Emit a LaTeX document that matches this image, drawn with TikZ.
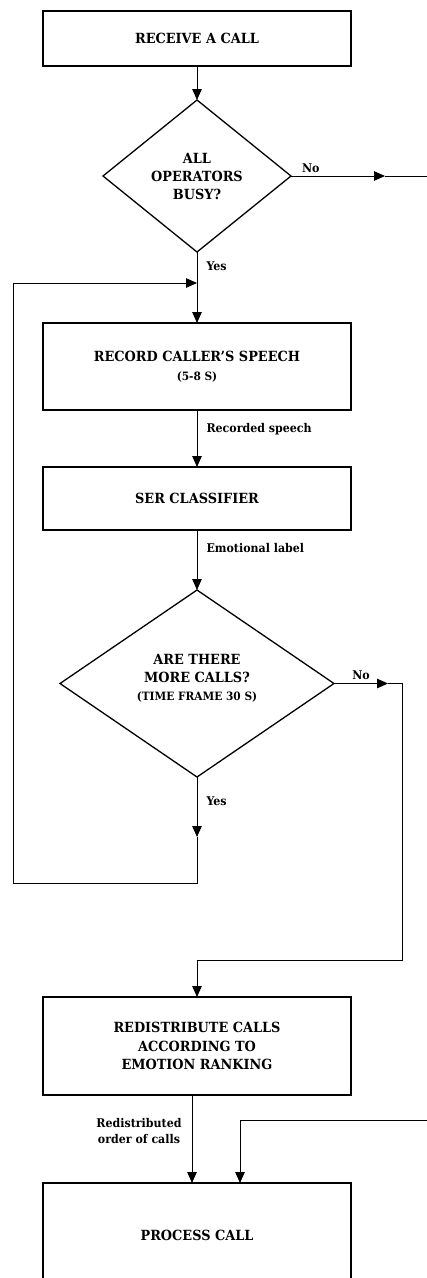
\documentclass[tikz,border=0pt]{standalone}
\usepackage{fontspec}
\setmainfont{DejaVu Serif}[FakeStretch=0.92]
\usetikzlibrary{arrows.meta,positioning,shapes.geometric}

\newcommand\subline[1]{{\fontsize{11.5}{18.5}\selectfont #1}}

\begin{document}
\begin{tikzpicture}[
  x=1pt, y=-1pt,
  box/.style={draw,line width=1.5pt,align=center,minimum width=308pt,inner sep=0pt,outer sep=0pt,font=\bfseries\fontsize{14}{18.5}\selectfont},
  decide/.style={diamond,draw,line width=1.3pt,align=center,inner sep=0pt,outer sep=0pt,font=\bfseries\fontsize{14}{18}\selectfont},
  lbl/.style={inner sep=1pt,font=\bfseries\fontsize{12}{16.5}\selectfont},
  arrow/.style={-{Triangle[length=11pt,width=9.5pt]},line width=1pt},
  wire/.style={line width=1pt}
]
\useasboundingbox (0,0) rectangle (427,1278);
\clip (0,0) rectangle (427,1278);

\node[box,minimum height=55pt] (recv) at (197,38.5) {RECEIVE A CALL};
\node[decide,minimum width=188pt,minimum height=152pt,below=34pt of recv] (busy) {ALL\\OPERATORS\\BUSY?};
\node[box,minimum height=87pt,below=71pt of busy] (rec) {RECORD CALLER'S SPEECH\\\subline{(5-8 S)}};
\node[box,minimum height=63pt,below=57pt of rec] (ser) {SER CLASSIFIER};
\node[decide,minimum width=274pt,minimum height=187pt,below=60pt of ser] (more) {ARE THERE\\MORE CALLS?\\\subline{(TIME FRAME 30 S)}\\[-6pt]\mbox{}};
\node[box,minimum height=98pt,below=220pt of more] (redist) {REDISTRIBUTE CALLS\\ACCORDING TO\\EMOTION RANKING};
\node[box,minimum height=104pt,below=88pt of redist] (proc) {PROCESS CALL};

% free ends and bends
\coordinate (noA) at ([xshift=94pt]busy.east);
\coordinate (rimA) at ([xshift=136pt]busy.east);
\coordinate (noB) at ([xshift=54pt]more.east);
\coordinate (bendB) at (402,960);
\coordinate (yesB) at (197,837);
\coordinate (loopB) at (197,883);
\coordinate (loopT) at (13,283);
\coordinate (join) at (197,283);
\coordinate (rimC) at (427,1120);

\draw[arrow] (recv) -- (busy);
\draw[arrow] (busy.east) -- node[lbl,above=2pt,pos=0.21] (nobusy) {No} (noA);
\draw[wire] (noA) -- (rimA);
\draw[arrow] (busy) -- node[lbl,right=8pt,pos=0.2] (yesbusy) {Yes} (rec);
\draw[arrow] (rec) -- node[lbl,right=8pt,pos=0.33] (speech) {Recorded speech} (ser);
\draw[arrow] (ser) -- node[lbl,right=8pt,pos=0.3] (emo) {Emotional label} (more);
\draw[arrow] (more.east) -- node[lbl,above=2pt,pos=0.5] (nomore) {No} (noB);
\draw[arrow] (noB) -| (bendB) -| (redist.north);
\draw[arrow] (more) -- node[lbl,right=8pt,pos=0.4] (yesmore) {Yes} (yesB);
\draw[arrow] (yesB) -- (loopB) -| (loopT) -- (join);
\draw[arrow] ([xshift=-5pt]redist.south) -- node[lbl,left=9pt,pos=0.41,align=center] (order) {Redistributed\\order of calls} ([xshift=-5pt]proc.north);
\draw[arrow] (rimC) -| ([xshift=43pt]proc.north);
\end{tikzpicture}
\end{document}
